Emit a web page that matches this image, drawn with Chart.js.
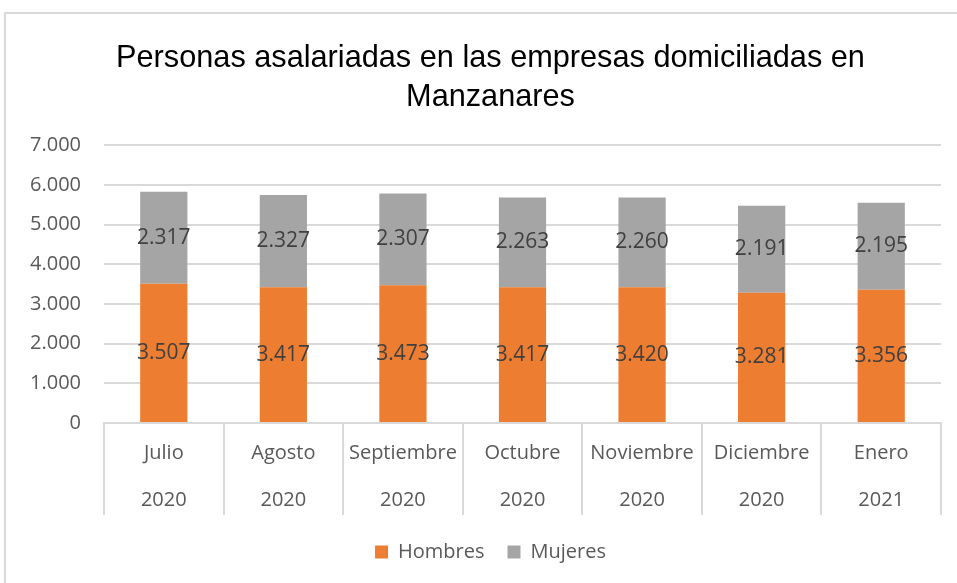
<!DOCTYPE html>
<html>
<head>
<meta charset="utf-8">
<script src="https://cdn.jsdelivr.net/npm/chart.js@4"></script>
<style>
html,body{margin:0;padding:0;background:#fff;overflow:hidden;}
#wrap{position:absolute;left:0;top:0;width:957px;height:583px;}
</style>
</head>
<body>
<div id="wrap"><canvas id="c" width="957" height="583"></canvas></div>
<script>
const categories = ["Julio", "Agosto", "Septiembre", "Octubre", "Noviembre", "Diciembre", "Enero"];
const years = ["2020", "2020", "2020", "2020", "2020", "2020", "2021"];
const hombres = [3507, 3417, 3473, 3417, 3420, 3281, 3356];
const mujeres = [2317, 2327, 2307, 2263, 2260, 2191, 2195];
const yTicks = [0, 1000, 2000, 3000, 4000, 5000, 6000, 7000];
const titleLines = ["Personas asalariadas en las empresas domiciliadas en", "Manzanares"];

function fmt(v) {
  return String(Math.round(v)).replace(/\B(?=(\d{3})+(?!\d))/g, ".");
}

const frame = {
  id: "frame",
  afterLayout(chart) {
    // let y tick labels extend into the left padding without being clipped
    chart.scales.y.left = 0;
  },
  beforeDraw(chart) {
    const ctx = chart.ctx;
    ctx.save();
    ctx.strokeStyle = "#d9d9d9";
    ctx.lineWidth = 2;
    ctx.beginPath();
    ctx.moveTo(5, 583);
    ctx.lineTo(5, 13);
    ctx.lineTo(957, 13);
    ctx.stroke();
    ctx.restore();
  },
  afterDraw(chart) {
    const ctx = chart.ctx;
    const area = chart.chartArea;
    const n = categories.length;
    const w = (area.right - area.left) / n;
    ctx.save();
    ctx.strokeStyle = "#d9d9d9";
    ctx.lineWidth = 2;
    ctx.beginPath();
    for (let i = 0; i <= n; i++) {
      const x = Math.round(area.left + i * w);
      ctx.moveTo(x, area.bottom);
      ctx.lineTo(x, area.bottom + 92);
    }
    ctx.stroke();
    ctx.restore();
  }
};

const labelsPlugin = {
  id: "segLabels",
  afterDatasetsDraw(chart) {
    const ctx = chart.ctx;
    ctx.save();
    ctx.font = "21px 'Open Sans'";
    ctx.fillStyle = "#404040";
    ctx.textAlign = "center";
    ctx.textBaseline = "middle";
    chart.data.datasets.forEach((ds, di) => {
      const meta = chart.getDatasetMeta(di);
      meta.data.forEach((el, i) => {
        const y = (el.y + el.base) / 2;
        ctx.fillText(fmt(ds.data[i]), el.x, y);
      });
    });
    ctx.restore();
  }
};

new Chart(document.getElementById("c"), {
  type: "bar",
  data: {
    labels: categories.map((c, i) => [c, years[i]]),
    datasets: [
      { label: "Hombres", data: hombres, backgroundColor: "#ED7D31", categoryPercentage: 1, barPercentage: 0.395 },
      { label: "Mujeres", data: mujeres, backgroundColor: "#A5A5A5", categoryPercentage: 1, barPercentage: 0.395 }
    ]
  },
  options: {
    responsive: false,
    animation: false,
    layout: { padding: { left: 40, right: 16, top: 0, bottom: 11 } },
    plugins: {
      title: {
        display: true,
        text: titleLines,
        color: "#000000",
        font: { family: "'Liberation Sans', Arial, sans-serif", size: 30.7, weight: "normal", lineHeight: 1.24 },
        padding: { top: 40, bottom: 29 }
      },
      legend: {
        position: "bottom",
        labels: {
          color: "#595959",
          font: { family: "'Open Sans'", size: 20 },
          boxWidth: 13,
          boxHeight: 13,
          padding: 23
        }
      },
      tooltip: { enabled: false }
    },
    scales: {
      x: {
        stacked: true,
        grid: { display: false, drawTicks: false },
        border: { display: true, color: "#d9d9d9", width: 2 },
        ticks: {
          color: "#595959",
          font: { family: "'Open Sans'", size: 20, lineHeight: 2.38 },
          padding: 6,
          maxRotation: 0,
          autoSkip: false
        },
        afterFit(scale) { scale.height = 96; }
      },
      y: {
        stacked: true,
        min: 0,
        max: 7000,
        afterBuildTicks(scale) { scale.ticks = yTicks.map(v => ({ value: v })); },
        ticks: {
          color: "#595959",
          font: { family: "'Open Sans'", size: 20 },
          padding: 23,
          callback: (v) => fmt(v)
        },
        grid: { color: "#d9d9d9", lineWidth: 2, drawTicks: false },
        border: { display: false },
        afterFit(scale) { scale.width = 64; }
      }
    }
  },
  plugins: [frame, labelsPlugin]
});
</script>
</body>
</html>
